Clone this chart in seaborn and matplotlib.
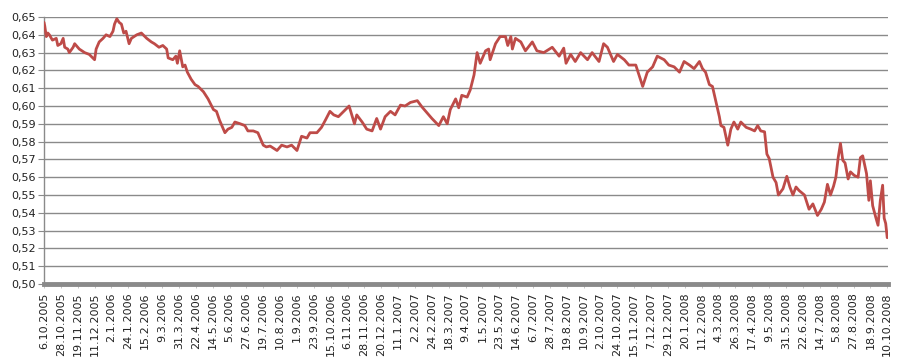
import matplotlib
matplotlib.use("Agg")
import matplotlib.pyplot as plt
import matplotlib.dates as mdates
import seaborn as sns
import pandas as pd
from matplotlib.ticker import FixedLocator, FuncFormatter

dates = [
    "2005-10-06", "2005-10-07", "2005-10-09", "2005-10-11", "2005-10-13", "2005-10-17",
    "2005-10-22", "2005-10-24", "2005-10-28", "2005-10-31", "2005-11-02", "2005-11-06",
    "2005-11-08", "2005-11-13", "2005-11-15", "2005-11-21", "2005-11-28", "2005-12-04",
    "2005-12-11", "2005-12-13", "2005-12-17", "2005-12-22", "2005-12-26", "2005-12-31",
    "2006-01-04", "2006-01-06", "2006-01-09", "2006-01-12", "2006-01-15", "2006-01-18",
    "2006-01-21", "2006-01-25", "2006-01-28", "2006-02-04", "2006-02-10", "2006-02-17",
    "2006-02-23", "2006-02-27", "2006-03-05", "2006-03-10", "2006-03-15", "2006-03-17",
    "2006-03-23", "2006-03-27", "2006-03-29", "2006-04-01", "2006-04-05", "2006-04-08",
    "2006-04-11", "2006-04-16", "2006-04-21", "2006-04-25", "2006-05-02", "2006-05-08",
    "2006-05-15", "2006-05-19", "2006-05-23", "2006-05-30", "2006-06-03", "2006-06-08",
    "2006-06-12", "2006-06-19", "2006-06-25", "2006-06-29", "2006-07-06", "2006-07-12",
    "2006-07-19", "2006-07-23", "2006-07-28", "2006-08-06", "2006-08-12", "2006-08-19",
    "2006-08-25", "2006-09-01", "2006-09-07", "2006-09-14", "2006-09-18", "2006-09-27",
    "2006-10-03", "2006-10-08", "2006-10-14", "2006-10-19", "2006-10-25", "2006-11-01",
    "2006-11-08", "2006-11-15", "2006-11-18", "2006-11-25", "2006-12-01", "2006-12-08",
    "2006-12-14", "2006-12-19", "2006-12-25", "2007-01-01", "2007-01-07", "2007-01-14",
    "2007-01-20", "2007-01-27", "2007-02-05", "2007-02-11", "2007-02-18", "2007-02-24",
    "2007-03-05", "2007-03-11", "2007-03-16", "2007-03-20", "2007-03-27", "2007-03-31",
    "2007-04-04", "2007-04-11", "2007-04-15", "2007-04-20", "2007-04-24", "2007-04-28",
    "2007-05-05", "2007-05-09", "2007-05-11", "2007-05-18", "2007-05-24", "2007-05-31",
    "2007-06-03", "2007-06-07", "2007-06-09", "2007-06-13", "2007-06-20", "2007-06-26",
    "2007-07-05", "2007-07-11", "2007-07-20", "2007-07-31", "2007-08-09", "2007-08-15",
    "2007-08-18", "2007-08-24", "2007-08-30", "2007-09-06", "2007-09-15", "2007-09-21",
    "2007-09-30", "2007-10-06", "2007-10-11", "2007-10-19", "2007-10-24", "2007-11-02",
    "2007-11-08", "2007-11-17", "2007-11-26", "2007-12-02", "2007-12-09", "2007-12-15",
    "2007-12-24", "2007-12-30", "2008-01-06", "2008-01-13", "2008-01-19", "2008-01-26",
    "2008-02-01", "2008-02-08", "2008-02-12", "2008-02-16", "2008-02-21", "2008-02-25",
    "2008-03-01", "2008-03-05", "2008-03-07", "2008-03-11", "2008-03-16", "2008-03-20",
    "2008-03-24", "2008-03-29", "2008-04-02", "2008-04-09", "2008-04-15", "2008-04-20",
    "2008-04-24", "2008-04-28", "2008-05-03", "2008-05-06", "2008-05-09", "2008-05-14",
    "2008-05-18", "2008-05-21", "2008-05-27", "2008-06-01", "2008-06-05", "2008-06-09",
    "2008-06-13", "2008-06-17", "2008-06-24", "2008-06-30", "2008-07-05", "2008-07-11",
    "2008-07-16", "2008-07-20", "2008-07-24", "2008-07-28", "2008-08-01", "2008-08-04",
    "2008-08-07", "2008-08-10", "2008-08-13", "2008-08-16", "2008-08-20", "2008-08-23",
    "2008-08-28", "2008-09-02", "2008-09-05", "2008-09-08", "2008-09-13", "2008-09-16",
    "2008-09-18", "2008-09-21", "2008-09-25", "2008-09-28", "2008-10-01", "2008-10-04",
    "2008-10-06", "2008-10-08", "2008-10-10",
]

values = [
    0.647, 0.645, 0.639, 0.641, 0.640, 0.637,
    0.638, 0.634, 0.635, 0.638, 0.633, 0.632,
    0.630, 0.633, 0.635, 0.632, 0.630, 0.629,
    0.626, 0.632, 0.636, 0.638, 0.640, 0.639,
    0.642, 0.646, 0.649, 0.647, 0.646, 0.641,
    0.642, 0.635, 0.638, 0.640, 0.641, 0.638,
    0.636, 0.635, 0.633, 0.634, 0.632, 0.627,
    0.626, 0.628, 0.624, 0.631, 0.622, 0.623,
    0.619, 0.615, 0.612, 0.611, 0.608, 0.604,
    0.598, 0.597, 0.592, 0.585, 0.587, 0.588,
    0.591, 0.590, 0.589, 0.586, 0.586, 0.585,
    0.578, 0.577, 0.5775, 0.575, 0.578, 0.577,
    0.578, 0.575, 0.583, 0.582, 0.585, 0.585,
    0.588, 0.592, 0.597, 0.595, 0.594, 0.597,
    0.600, 0.590, 0.595, 0.591, 0.587, 0.586,
    0.593, 0.587, 0.594, 0.597, 0.595, 0.6005,
    0.600, 0.602, 0.603, 0.5995, 0.596, 0.593,
    0.589, 0.594, 0.590, 0.598, 0.604, 0.599,
    0.606, 0.605, 0.609, 0.6175, 0.630, 0.624,
    0.631, 0.632, 0.626, 0.635, 0.639, 0.639,
    0.634, 0.639, 0.632, 0.638, 0.636, 0.631,
    0.636, 0.631, 0.630, 0.633, 0.628, 0.6325,
    0.624, 0.629, 0.625, 0.630, 0.626, 0.630,
    0.625, 0.635, 0.633, 0.625, 0.629, 0.626,
    0.623, 0.623, 0.611, 0.619, 0.622, 0.628,
    0.626, 0.623, 0.622, 0.619, 0.625, 0.623,
    0.621, 0.625, 0.621, 0.619, 0.612, 0.611,
    0.6015, 0.594, 0.589, 0.588, 0.578, 0.587,
    0.591, 0.587, 0.591, 0.588, 0.587, 0.586,
    0.589, 0.586, 0.5855, 0.573, 0.5705, 0.560,
    0.557, 0.550, 0.5535, 0.5605, 0.5545, 0.550,
    0.5545, 0.5525, 0.550, 0.542, 0.545, 0.5385,
    0.542, 0.546, 0.556, 0.550, 0.555, 0.560,
    0.571, 0.579, 0.5695, 0.568, 0.559, 0.563,
    0.561, 0.560, 0.571, 0.572, 0.562, 0.547,
    0.558, 0.544, 0.5375, 0.533, 0.547, 0.5555,
    0.537, 0.534, 0.526,
]

tick_labels = [
    "6.10.2005", "28.10.2005", "19.11.2005", "11.12.2005", "2.1.2006", "24.1.2006",
    "15.2.2006", "9.3.2006", "31.3.2006", "22.4.2006", "14.5.2006", "5.6.2006",
    "27.6.2006", "19.7.2006", "10.8.2006", "1.9.2006", "23.9.2006", "15.10.2006",
    "6.11.2006", "28.11.2006", "20.12.2006", "11.1.2007", "2.2.2007", "24.2.2007",
    "18.3.2007", "9.4.2007", "1.5.2007", "23.5.2007", "14.6.2007", "6.7.2007",
    "28.7.2007", "19.8.2007", "10.9.2007", "2.10.2007", "24.10.2007", "15.11.2007",
    "7.12.2007", "29.12.2007", "20.1.2008", "11.2.2008", "4.3.2008", "26.3.2008",
    "17.4.2008", "9.5.2008", "31.5.2008", "22.6.2008", "14.7.2008", "5.8.2008",
    "27.8.2008", "18.9.2008", "10.10.2008",
]

y_ticks = [0.50, 0.51, 0.52, 0.53, 0.54, 0.55, 0.56, 0.57, 0.58, 0.59,
           0.60, 0.61, 0.62, 0.63, 0.64, 0.65]

df = pd.DataFrame({"date": pd.to_datetime(dates), "value": values})
tick_dates = pd.to_datetime(tick_labels, format="%d.%m.%Y")

sns.set_style("white")
plt.rcParams["font.family"] = ["DejaVu Sans"]

fig = plt.figure(figsize=(8.98, 3.64), dpi=100)
ax = fig.add_axes([44 / 898, 80 / 364, 844 / 898, 267 / 364])

for yv in y_ticks[1:]:
    ax.axhline(yv, color="#8a8a8a", linewidth=1.0, zorder=1)

sns.lineplot(data=df, x="date", y="value", ax=ax, color="#BE4B48",
             linewidth=2.0, zorder=3)

ax.set_xlim(tick_dates[0], tick_dates[-1] + pd.Timedelta(days=1))
ax.set_ylim(0.50, 0.65)
ax.yaxis.set_major_locator(FixedLocator(y_ticks))
ax.yaxis.set_major_formatter(FuncFormatter(lambda v, p: f"{v:.2f}".replace(".", ",")))
ax.set_xticks(mdates.date2num(tick_dates))
ax.set_xticklabels(tick_labels, rotation=90, fontsize=8, color="#222222")
ax.tick_params(axis="y", labelsize=8, labelcolor="#222222", length=4,
               width=0.8, color="#8a8a8a", direction="out", left=True, pad=2)
ax.tick_params(axis="x", length=3, width=0.6, color="#bbbbbb",
               direction="out", bottom=True, pad=3)
ax.set_xlabel("")
ax.set_ylabel("")

for s in ["top", "right"]:
    ax.spines[s].set_visible(False)
ax.spines["left"].set_color("#8a8a8a")
ax.spines["left"].set_linewidth(1.0)
ax.spines["bottom"].set_color("#8a8a8a")
ax.spines["bottom"].set_linewidth(3.5)
ax.spines["bottom"].set_zorder(4)

fig.savefig("out.png", dpi=100)
